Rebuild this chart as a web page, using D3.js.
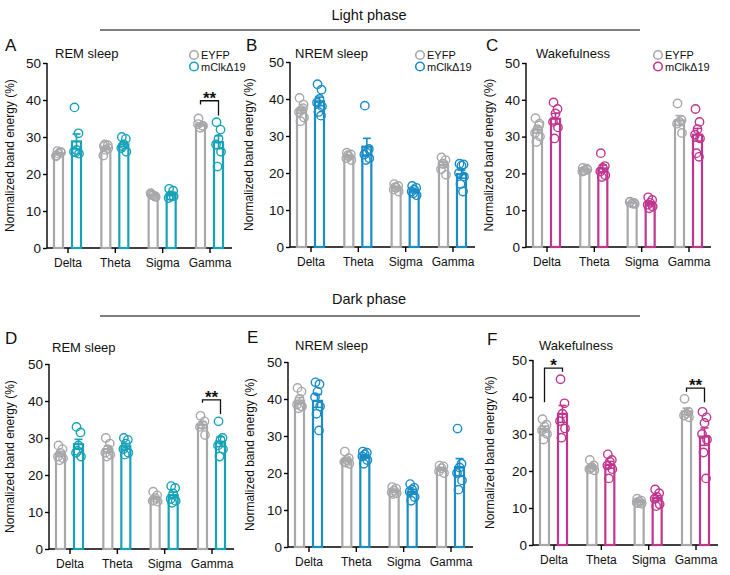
<!DOCTYPE html>
<html><head><meta charset="utf-8">
<script src="https://cdn.jsdelivr.net/npm/d3@7"></script>
<style>body{margin:0;background:#fff} text{font-family:"Liberation Sans",Arial,sans-serif;fill:#111}</style>
</head><body><svg id="c" width="730" height="575"></svg>
<script>
const categories=["Delta","Theta","Sigma","Gamma"];
const groups=["EYFP","mClkΔ19"];
const yTicks=[0,10,20,30,40,50];
const panelLetters=["A","B","C","D","E","F"];
const panelTitles=["REM sleep","NREM sleep","Wakefulness","REM sleep","NREM sleep","Wakefulness"];
const phaseTitles=["Light phase","Dark phase"];

// individual animals, per category [Delta, Theta, Sigma, Gamma]
const remLightEYFP=[[25,26,25.5,24.8,25.8,26.2],[27.5,27.8,26.5,25,27,28],[14.5,14,14.2,14.8,13.8,14.3],[35,33,32.5,33.5,33]];
const remLightMut=[[38,31,26.5,26,25.5,25.8],[30,29.5,28,27,26,27.5],[16,15.5,14,13.5,14,14.2],[34,32,29.5,28,26,22]];
const nremLightEYFP=[[40.3,38.5,37,36.5,35,34,37.5],[25.5,25,24.5,24,23.5,24.8],[17,16.5,16,15.5,15,16.2],[24.2,23.5,22.5,21,19.5,22.5]];
const nremLightMut=[[44,42.5,40,39,38,36.5,35.5],[38.2,26.5,25.5,25,24,23.5],[16.5,16,15.5,15,14,14.5],[22.5,22.3,22,20,19,17,15]];
const wakeLightEYFP=[[35,33.5,32,31,30,28.5,33],[21.5,21.3,20.8,20.5,21,20.7],[12.3,12,11.8,12.2,11.7],[39,34.5,34,33.5,31]];
const wakeLightMut=[[39.3,37.5,36.3,34,32.5,29.5],[25.5,22,21.5,20.5,19.5,19],[13.5,12.8,12,11.5,11,10.5],[37.5,34,32,30.5,29.5,25.5,24.5]];
const remDarkEYFP=[[28,27,26,25,24.5,24],[30,28.5,27,26,25.5,25],[15.5,14.5,13.8,13,12.8,13.2],[36,34.5,33.5,33,30.8]];
const remDarkMut=[[33,31.5,28,26,25,26.5],[30,29.5,28.5,27,26,25.5],[17,16.5,15,13.5,13,12.5],[34.5,30,29.5,28,27,25]];
const nremDarkEYFP=[[43,42,40,38.5,38,37.5,38],[25.8,24,23.5,23,22.5,22.8],[16.2,15.8,15.2,14.8,14.5,14.3],[22,21.8,21.3,20.5,20]];
const nremDarkMut=[[44.5,44,42,40.5,38,36,31.5],[25.8,25.5,25,24.5,23.5,22.5],[17,16,15.5,15,13.5,12.5],[32,22.5,21.5,20,18,15.5]];
const wakeDarkEYFP=[[34,32.5,32,31,30,28.5],[23,21.5,21,20.5,20.2,20.8],[12.5,12,11.8,11.5,11.2,11.3],[39.5,36,35.5,35,34.5]];
const wakeDarkMut=[[44.8,38.3,35.5,33.5,31.5,29],[24.5,23,22.5,21.5,20.5,18],[15,14,13,12.5,11,10.5],[36,34.5,33,30,28.5,25,18]];

// significance brackets: panel index, category, label, bracket top, left leg end, right leg end
const sigPanels=[0,3,5,5];
const sigCats=["Gamma","Gamma","Delta","Gamma"];
const sigLabels=["**","**","*","**"];
const sigTop=[39.8,40.3,47.8,42.4];
const sigLeftEnd=[38.8,39.5,38.6,41.4];
const sigRightEnd=[35.8,36.5,46.8,38.6];

const mutColors=["#17a2b8","#1a8cc6","#c0368f","#17a2b8","#1a8cc6","#c0368f"];
const gray="#a8a8ab";

const panelData=[[remLightEYFP,remLightMut],[nremLightEYFP,nremLightMut],[wakeLightEYFP,wakeLightMut],
                 [remDarkEYFP,remDarkMut],[nremDarkEYFP,nremDarkMut],[wakeDarkEYFP,wakeDarkMut]];
const layout=[
 {x0:47,y0:248,y50:63,lx:5,ly:51,tx:55,ty:58,leg:[194,55]},
 {x0:290,y0:247,y50:62,lx:246,ly:51,tx:295,ty:58,leg:[420,55]},
 {x0:526,y0:247,y50:63,lx:486,ly:51,tx:536,ty:58,leg:[658,55]},
 {x0:49,y0:549,y50:364,lx:5,ly:344,tx:52,ty:352,leg:null},
 {x0:288,y0:547,y50:362,lx:247,ly:343,tx:295,ty:350,leg:null},
 {x0:533,y0:545,y50:360,lx:487,ly:345,tx:539,ty:350,leg:null}
];
const labelX=[14,253,493,14,254,494];

const svg=d3.select("#c");
[[369,20,30],[369,304,316]].forEach((h,i)=>{
  svg.append("text").attr("x",h[0]).attr("y",h[1]).attr("text-anchor","middle").attr("font-size",14.5).text(phaseTitles[i]);
  svg.append("line").attr("x1",100).attr("x2",640).attr("y1",h[2]).attr("y2",h[2]).attr("stroke","#000").attr("stroke-width",1.2);
});

const jit=[-2,2,0,-2.5,2.5,-1,1.5];

panelData.forEach((pd,pi)=>{
  const L=layout[pi];
  const col=mutColors[pi];
  const colors=[gray,col];
  const g=svg.append("g");
  const y=d3.scaleLinear().domain([0,50]).range([L.y0,L.y50]);
  const x=d3.scalePoint().domain(categories).range([L.x0+20.5,L.x0+162.5]);
  const xs=d3.scaleBand().domain(groups).range([-18,18]);
  const bw=9;

  g.append("text").attr("x",L.lx).attr("y",L.ly).attr("font-size",17).text(panelLetters[pi]);
  g.append("text").attr("x",L.tx).attr("y",L.ty).attr("font-size",13).text(panelTitles[pi]);
  if(L.leg){
    groups.forEach((gr,gi)=>{
      g.append("circle").attr("cx",L.leg[0]).attr("cy",L.leg[1]+gi*11.5).attr("r",4.3)
       .attr("fill","none").attr("stroke",colors[gi]).attr("stroke-width",1.6);
      g.append("text").attr("x",L.leg[0]+7).attr("y",L.leg[1]+gi*11.5+4).attr("font-size",11).text(gr);
    });
  }
  const ya=g.append("g").attr("transform",`translate(${L.x0},0)`)
    .call(d3.axisLeft(y).tickValues(yTicks).tickSize(4).tickPadding(2));
  ya.selectAll("text").attr("font-size",13.5).attr("fill","#111");
  ya.select(".domain").attr("stroke-width",1.4).attr("d",`M0,${L.y50}V${L.y0}`);
  ya.selectAll(".tick line").attr("stroke-width",1.4);
  const xa=g.append("g").attr("transform",`translate(0,${L.y0})`)
    .call(d3.axisBottom(x).tickSize(5).tickPadding(5));
  xa.select(".domain").attr("stroke-width",1.4).attr("d",`M${L.x0},0H${L.x0+185}`);
  xa.selectAll(".tick line").attr("stroke-width",1.4);
  xa.selectAll("text").attr("font-size",12).attr("fill","#111");
  g.append("text").attr("transform",`translate(${labelX[pi]},${(L.y0+L.y50)/2}) rotate(-90)`)
   .attr("text-anchor","middle").attr("font-size",12).text("Normalized band energy (%)");

  groups.forEach((gr,gi)=>{
    const series=pd[gi];
    categories.forEach((c,ci)=>{
      const vals=series[ci];
      const m=d3.mean(vals), sem=d3.deviation(vals)/Math.sqrt(vals.length);
      const cx=x(c)+xs(gr)+xs.bandwidth()/2;
      g.append("rect").attr("x",cx-bw/2).attr("width",bw).attr("y",y(m)).attr("height",y(0)-y(m))
       .attr("fill","#fff").attr("stroke",colors[gi]).attr("stroke-width",2.2);
      g.selectAll(null).data(vals).enter().append("circle")
       .attr("cx",(d,i)=>cx+jit[i%jit.length]).attr("cy",d=>y(d)).attr("r",4.2)
       .attr("fill","none").attr("stroke",colors[gi]).attr("stroke-width",1.4);
      const eg=g.append("g").attr("stroke",colors[gi]).attr("stroke-width",1.6);
      eg.append("line").attr("x1",cx).attr("x2",cx).attr("y1",y(m-sem)).attr("y2",y(m+sem));
      eg.append("line").attr("x1",cx-4).attr("x2",cx+4).attr("y1",y(m+sem)).attr("y2",y(m+sem));
      eg.append("line").attr("x1",cx-4).attr("x2",cx+4).attr("y1",y(m-sem)).attr("y2",y(m-sem));
    });
  });

  sigPanels.forEach((sp,si)=>{
    if(sp!==pi) return;
    const xl=x(sigCats[si])+xs(groups[0])+xs.bandwidth()/2;
    const xr=x(sigCats[si])+xs(groups[1])+xs.bandwidth()/2;
    g.append("path").attr("fill","none").attr("stroke","#111").attr("stroke-width",1.3)
     .attr("d",`M${xl},${y(sigLeftEnd[si])}V${y(sigTop[si])}H${xr}V${y(sigRightEnd[si])}`);
    g.append("text").attr("x",(xl+xr)/2).attr("y",y(sigTop[si])+3).attr("text-anchor","middle")
     .attr("font-size",17).attr("font-weight","bold").text(sigLabels[si]);
  });
});
</script></body></html>
